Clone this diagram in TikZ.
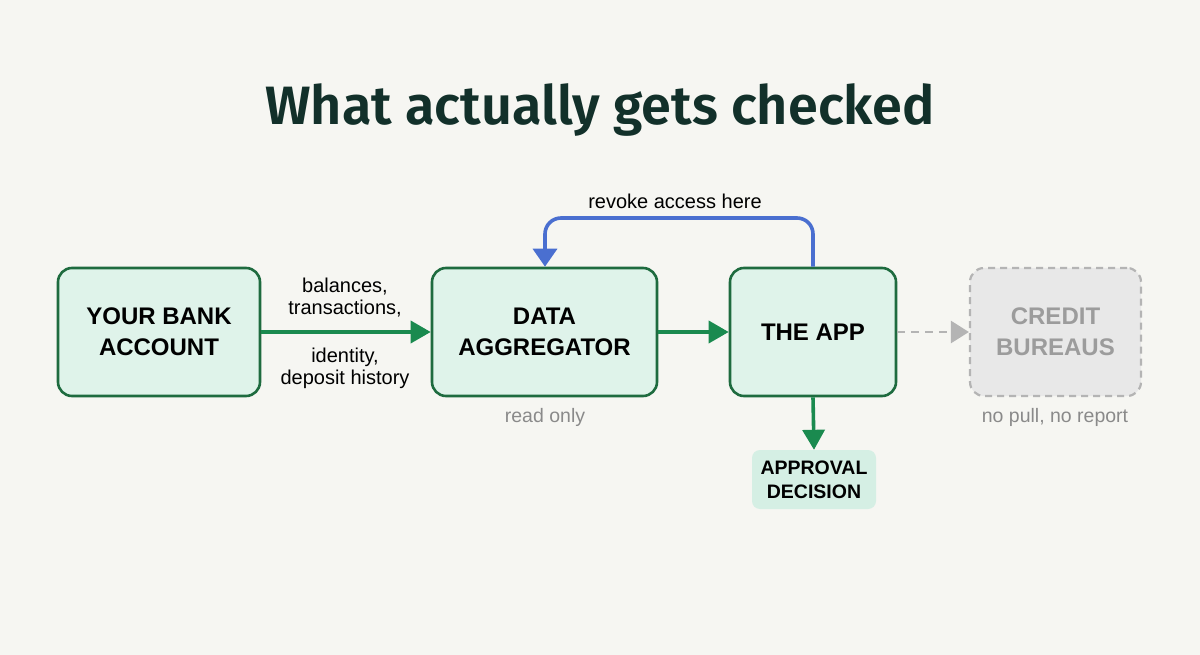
\documentclass[tikz,border=0pt]{standalone}
\usepackage{fontspec}
\setmainfont{Liberation Sans}
\newfontfamily\titlefont{Fira Sans SemiBold}
\usetikzlibrary{arrows.meta}
\definecolor{bg}{HTML}{F6F6F2}
\definecolor{boxfill}{HTML}{DFF3EA}
\definecolor{boxline}{HTML}{1E6B3F}
\definecolor{arrowgreen}{HTML}{1A8A4F}
\definecolor{revokeblue}{HTML}{4A6FD0}
\definecolor{greyfill}{HTML}{E8E8E8}
\definecolor{greyline}{HTML}{B4B4B4}
\definecolor{greytext}{HTML}{9C9C9C}
\definecolor{subtext}{HTML}{8A8A8A}
\definecolor{titlecol}{HTML}{12302A}
\definecolor{decfill}{HTML}{D5EFE4}
\begin{document}
\begin{tikzpicture}[x=1pt,y=-1pt,
  mainbox/.style={draw=boxline, line width=2.6pt, fill=boxfill, rounded corners=14pt,
    font=\fontsize{24}{31}\selectfont\bfseries, text=black, align=center, minimum height=128pt, inner sep=0pt},
  ghostbox/.style={draw=greyline, dashed, dash pattern=on 7pt off 5pt, line width=2.2pt, fill=greyfill, rounded corners=14pt,
    font=\fontsize{24}{31}\selectfont\bfseries, text=greytext, align=center, minimum height=128pt, minimum width=171pt, inner sep=0pt},
  decbox/.style={fill=decfill, rounded corners=8pt, font=\fontsize{19.5}{24}\selectfont\bfseries, text=black, align=center,
    minimum width=124pt, minimum height=59pt, inner sep=0pt},
  flow/.style={draw=arrowgreen, line width=3.6pt, -{Triangle[length=20pt,width=22pt]}},
  lbl/.style={font=\fontsize{20}{22}\selectfont, text=black, align=center},
  sub/.style={font=\fontsize{19.5}{22}\selectfont, text=subtext},
]
\fill[bg] (0,0) rectangle (1200,655);
\useasboundingbox (0,0) rectangle (1200,655);

\node[font=\titlefont\fontsize{54}{60}\selectfont, text=titlecol, anchor=base] (title) at (600,125) {What actually gets checked};

\node[mainbox, minimum width=202pt] (bank) at (159,332) {YOUR BANK\\ACCOUNT};
\node[mainbox, minimum width=225pt] (agg) at (544.5,332) {DATA\\AGGREGATOR};
\node[mainbox, minimum width=166pt] (app) at (813,332) {THE APP};
\node[ghostbox] (cred) at (1055.5,332) {CREDIT\\BUREAUS};
\node[decbox] (dec) at (814,479.5) {APPROVAL\\DECISION};

\draw[flow] (bank.east) -- (agg.west);
\draw[flow] (agg.east) -- (app.west);
\draw[flow] (app.south) -- (dec.north);
\draw[draw=greyline, line width=2.6pt, dash pattern=on 8pt off 6pt, -{Triangle[length=18pt,width=22pt]}] (app.east) -- (cred.west);

\coordinate (bl) at (545,218);
\coordinate (br) at (813,218);
\draw[draw=revokeblue, line width=3.6pt, rounded corners=16pt, -{Triangle[length=18pt,width=24pt]}]
  (app.north) -- (br) -- (bl) -- (agg.north -| bl);

\node[lbl] (rev) at (675,201) {revoke access here};
\node[lbl] (l1) at (345,298) {balances,\\transactions,};
\node[lbl] (l2) at (345,368) {identity,\\deposit history};
\node[sub] (ro) at (545,417) {read only};
\node[sub] (np) at (1055,417) {no pull, no report};
\end{tikzpicture}
\end{document}
